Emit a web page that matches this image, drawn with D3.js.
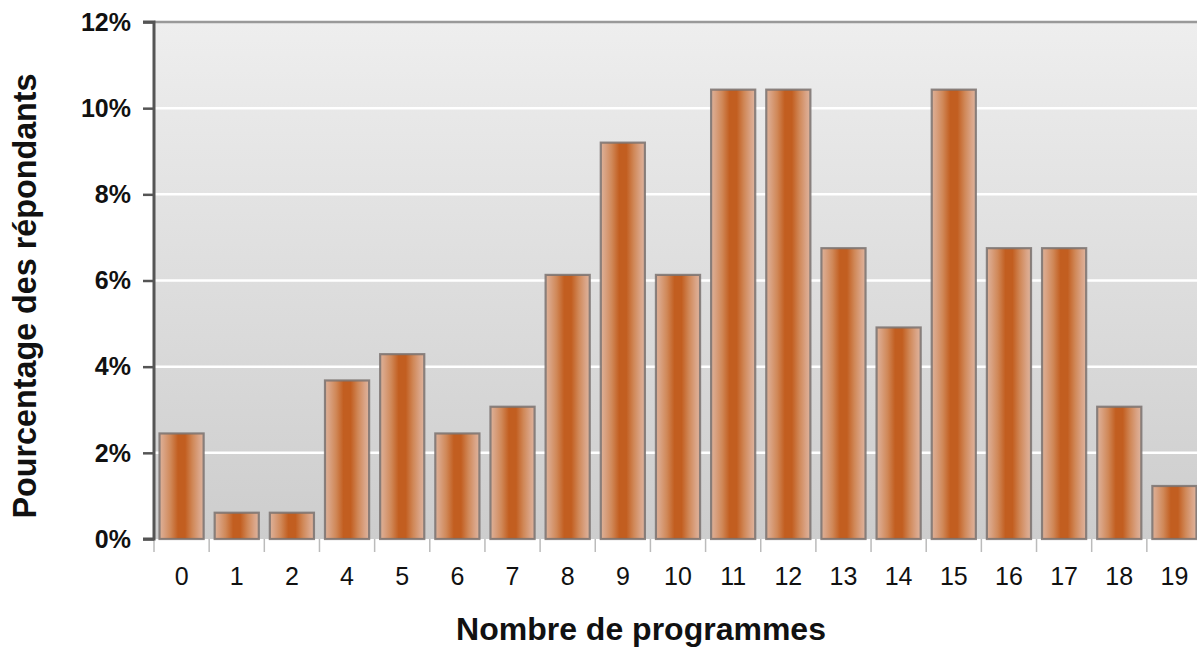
<!DOCTYPE html>
<html><head><meta charset="utf-8">
<script src="https://cdn.jsdelivr.net/npm/d3@7"></script>
<style>
html,body{margin:0;padding:0;background:#fff;}
svg{display:block;font-family:"Liberation Sans",Arial,sans-serif;}
</style></head>
<body>
<svg id="chart" width="1197" height="647"></svg>
<script>
const categories = ["0","1","2","4","5","6","7","8","9","10","11","12","13","14","15","16","17","18","19"];
const values = [2.45, 0.61, 0.61, 3.68, 4.29, 2.45, 3.07, 6.13, 9.20, 6.13, 10.43, 10.43, 6.75, 4.91, 10.43, 6.75, 6.75, 3.07, 1.23];
const yTicks = [0, 2, 4, 6, 8, 10, 12];
const xTitle = "Nombre de programmes";
const yTitle = "Pourcentage des répondants";

const svg = d3.select("#chart");
const margin = {left: 154, top: 22, right: -5, bottom: 108};
const W = 1197, H = 647;
const x0 = margin.left, x1 = W - margin.right, y0 = H - margin.bottom, y1 = margin.top;

const x = d3.scaleBand().domain(categories).range([x0, x1]).paddingInner(0.2).paddingOuter(0.1);
const y = d3.scaleLinear().domain([0, 12]).range([y0, y1]);

const defs = svg.append("defs");
const bg = defs.append("linearGradient").attr("id","bg").attr("x1",0).attr("y1",0).attr("x2",0).attr("y2",1);
bg.append("stop").attr("offset","0%").attr("stop-color","#eeeeee");
bg.append("stop").attr("offset","100%").attr("stop-color","#cdcdcd");

const bar = defs.append("linearGradient").attr("id","bar").attr("x1",0).attr("y1",0).attr("x2",1).attr("y2",0);
[["0%","#ddb29a"],["10%","#d9a282"],["25%","#d08858"],["42%","#c25e20"],["58%","#c25e20"],["75%","#d08858"],["90%","#daa486"],["100%","#deb49e"]]
  .forEach(([o,c]) => bar.append("stop").attr("offset",o).attr("stop-color",c));

// plot background
svg.append("rect").attr("x", x0).attr("y", y1).attr("width", x1 - x0).attr("height", y0 - y1).attr("fill","url(#bg)");

// gridlines
svg.append("g").selectAll("line").data(yTicks.filter(d => d > 0 && d < 12)).join("line")
  .attr("x1", x0).attr("x2", x1).attr("y1", d => y(d)).attr("y2", d => y(d))
  .attr("stroke","#ffffff").attr("stroke-width",2.5);

// top border
svg.append("line").attr("x1", x0).attr("x2", x1).attr("y1", y(12)).attr("y2", y(12)).attr("stroke","#999").attr("stroke-width",2.5);

// bars
svg.append("g").selectAll("rect").data(values).join("rect")
  .attr("x", (d,i) => x(categories[i]))
  .attr("y", d => y(d))
  .attr("width", x.bandwidth())
  .attr("height", d => y0 - y(d))
  .attr("fill","url(#bar)")
  .attr("stroke","#7a7270").attr("stroke-opacity",0.85).attr("stroke-width",2.2);

// x axis ticks at band boundaries
const step = x.step();
const bounds = d3.range(categories.length + 1).map(i => x0 + i * step);
svg.append("g").selectAll("line").data(bounds).join("line")
  .attr("x1", d => d).attr("x2", d => d).attr("y1", y0).attr("y2", y0 + 13)
  .attr("stroke","#bbbbbb").attr("stroke-width",1.5);

// x labels
svg.append("g").selectAll("text").data(categories).join("text")
  .attr("x", d => x(d) + x.bandwidth()/2).attr("y", 585)
  .attr("text-anchor","middle").attr("font-size",25).attr("fill","#111").text(d => d);

// y axis
const yAxis = d3.axisLeft(y).tickValues(yTicks).tickSize(11).tickFormat(d => d + "%");
const gy = svg.append("g").attr("transform", `translate(${x0},0)`).call(yAxis);
gy.select(".domain").attr("stroke","#555").attr("stroke-width",3).attr("d", `M-11,${y1}H0V${y0}H-11`);
gy.selectAll(".tick line").attr("stroke","#555").attr("stroke-width",2.5);
gy.selectAll(".tick text").attr("font-size",25).attr("font-weight","bold").attr("fill","#111")
  .attr("font-family","'Liberation Sans',Arial,sans-serif").attr("x",-23).attr("dy","0.33em");

// titles
svg.append("text").attr("x", 641).attr("y", 640).attr("text-anchor","middle")
  .attr("font-size",32).attr("font-weight","bold").attr("fill","#111").text(xTitle);
svg.append("text").attr("transform","translate(36,296) rotate(-90)").attr("text-anchor","middle")
  .attr("font-size",32.3).attr("font-weight","bold").attr("fill","#111").text(yTitle);
</script>
</body></html>
